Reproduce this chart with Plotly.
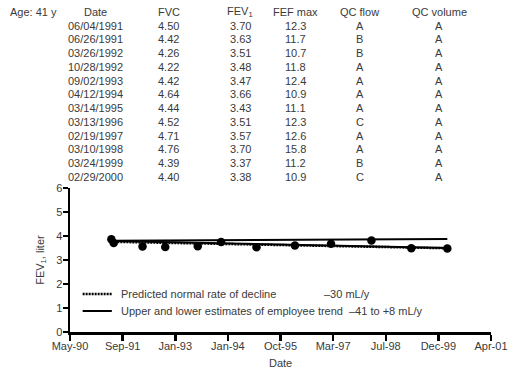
import plotly.graph_objects as go
from datetime import datetime, timedelta

# ---- data ----
dates = ["1991-06-04", "1991-06-26", "1992-03-26", "1992-10-28", "1993-09-02", "1994-04-12",
         "1995-03-14", "1996-03-13", "1997-02-19", "1998-03-10", "1999-03-24", "2000-02-29"]
table_dates = ["06/04/1991", "06/26/1991", "03/26/1992", "10/28/1992", "09/02/1993", "04/12/1994",
               "03/14/1995", "03/13/1996", "02/19/1997", "03/10/1998", "03/24/1999", "02/29/2000"]
fvc = ["4.50", "4.42", "4.26", "4.22", "4.42", "4.64", "4.44", "4.52", "4.71", "4.76", "4.39", "4.40"]
fev1_table = ["3.70", "3.63", "3.51", "3.48", "3.47", "3.66", "3.43", "3.51", "3.57", "3.70", "3.37", "3.38"]
fef_max = ["12.3", "11.7", "10.7", "11.8", "12.4", "10.9", "11.1", "12.3", "12.6", "15.8", "11.2", "10.9"]
qc_flow = ["A", "B", "B", "A", "A", "A", "A", "C", "A", "A", "B", "C"]
qc_volume = ["A"] * 12

# plotted FEV1 points
fev1_plot = [3.86, 3.71, 3.56, 3.54, 3.57, 3.75, 3.53, 3.60, 3.68, 3.81, 3.49, 3.48]

trend_x = ["1991-06-04", "2000-02-29"]
upper_trend = [3.80, 3.88]
lower_trend = [3.79, 3.50]
predicted = [3.76, 3.49]

tick_serials = [33000, 33500, 34000, 34500, 35000, 35500, 36000, 36500, 37000]
tick_text = ["May-90", "Sep-91", "Jan-93", "Jan-94", "Oct-95", "Mar-97", "Jul-98", "Dec-99", "Apr-01"]
y_ticks = [0, 1, 2, 3, 4, 5, 6]

base = datetime(1899, 12, 30)
tick_vals = [(base + timedelta(days=s)).strftime("%Y-%m-%d") for s in tick_serials]

FONT = "Liberation Sans, Arial, sans-serif"
TXT = "#3a3a3a"

# plot area in pixels
L, R, T, B = 70, 503, 188, 332
W, H = 520, 372


def px(x):
    return (x - L) / (R - L)


def py(y):
    return (B - y) / (B - T)


fig = go.Figure()

fig.add_trace(go.Scatter(x=trend_x, y=upper_trend, mode="lines",
                         line=dict(color="black", width=2), showlegend=False))
fig.add_trace(go.Scatter(x=trend_x, y=lower_trend, mode="lines",
                         line=dict(color="black", width=2), showlegend=False))
fig.add_trace(go.Scatter(x=trend_x, y=predicted, mode="lines",
                         line=dict(color="black", width=2.5, dash="2px,1px"), showlegend=False))
fig.add_trace(go.Scatter(x=dates, y=fev1_plot, mode="markers",
                         marker=dict(color="black", size=8.5), showlegend=False))

annotations = []


def txt(x, y, s, anchor="center"):
    annotations.append(dict(x=px(x), y=py(y), xref="paper", yref="paper", text=s,
                            showarrow=False, xanchor=anchor, yanchor="middle",
                            font=dict(family=FONT, size=11, color=TXT)))


# table
header_y = 12
row0 = 25.5
step = 13.75
txt(6, header_y, "Age: 41 y", "left")
cols = [(96.5, "Date", table_dates), (171.5, "FVC", fvc), (245, "FEV<sub>1</sub>", fev1_table),
        (302, "FEF max", fef_max), (368, "QC flow", qc_flow), (450, "QC volume", qc_volume)]
for cx, head, vals in cols:
    txt(cx, header_y, head)
    for i, v in enumerate(vals):
        txt(cx, row0 + i * step, v)

# legend
txt(120, 294, "Predicted normal rate of decline", "left")
txt(329, 294, "\u201330 mL/y", "left")
txt(120, 311, "Upper and lower estimates of employee trend", "left")
txt(355, 311, "\u201341 to +8 mL/y", "left")

# axis titles
annotations.append(dict(x=px(40), y=py(260), xref="paper", yref="paper", text="FEV<sub>1</sub>, liter",
                        showarrow=False, textangle=-90, xanchor="center", yanchor="middle",
                        font=dict(family=FONT, size=11, color=TXT)))
txt(286.5, 363, "Date")

shapes = [
    dict(type="line", xref="paper", yref="paper", x0=px(83), x1=px(113), y0=py(294), y1=py(294),
         line=dict(color="black", width=2.5, dash="2px,1px")),
    dict(type="line", xref="paper", yref="paper", x0=px(83), x1=px(113), y0=py(311), y1=py(311),
         line=dict(color="black", width=2)),
]

fig.update_layout(
    width=W, height=H,
    margin=dict(l=L, r=W - R, t=T, b=H - B, pad=0),
    paper_bgcolor="white", plot_bgcolor="white",
    font=dict(family=FONT, size=11, color=TXT),
    annotations=annotations, shapes=shapes,
    xaxis=dict(type="date", range=[tick_vals[0], tick_vals[-1]], tickvals=tick_vals, ticktext=tick_text,
               showgrid=False, zeroline=False, showline=True, linecolor="black", linewidth=2.5,
               ticks="outside", ticklen=6, tickwidth=2.5, tickcolor="black", ticklabelstandoff=-4,
               tickfont=dict(family=FONT, size=11, color=TXT)),
    yaxis=dict(range=[0, 6], tickvals=y_ticks, showgrid=False, zeroline=False, showline=True,
               linecolor="black", linewidth=2.5, ticks="outside", ticklen=5, tickwidth=2.5,
               ticklabelstandoff=-2,
               tickcolor="black", tickfont=dict(family=FONT, size=11, color=TXT)),
)

fig.write_html("out.html", config={"displayModeBar": False, "staticPlot": True},
               post_script="document.body.style.margin='0';document.body.style.overflow='hidden';")
